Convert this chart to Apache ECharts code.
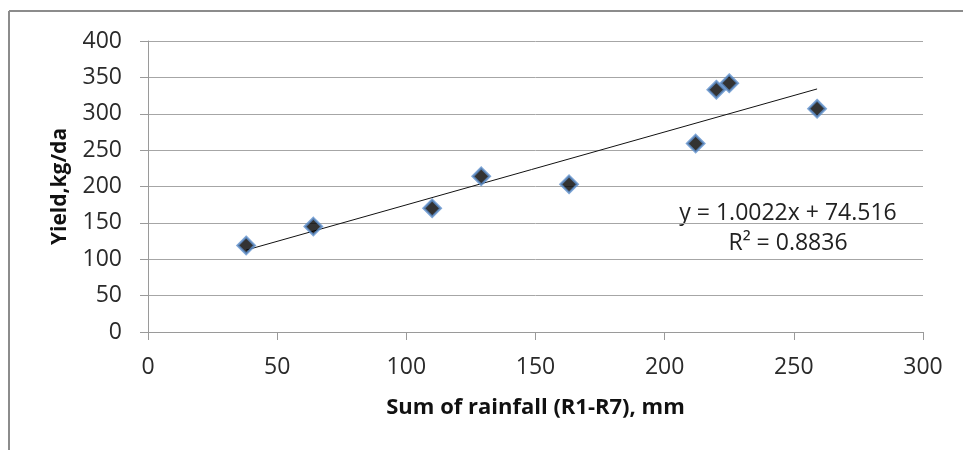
<!DOCTYPE html>
<html>
<head>
<meta charset="utf-8">
<script src="https://cdn.jsdelivr.net/npm/echarts@6/dist/echarts.min.js"></script>
<style>
  html, body { margin: 0; padding: 0; background: #fff; }
  #chart { width: 963px; height: 450px; }
</style>
</head>
<body>
<div id="chart"></div>
<script>
// rainfall sum (mm) and yield (kg/da)
const rainfall = [38, 64, 110, 129, 163, 212, 220, 225, 259];
const yieldKg = [119, 145, 170, 214, 203, 259, 333, 342, 307];
// linear trendline as printed on the chart
const slope = 1.0022;
const intercept = 74.516;
const r2 = 0.8836;

const points = rainfall.map((x, i) => [x, yieldKg[i]]);
const xMin = Math.min(...rainfall);
const xMax = Math.max(...rainfall);
const trend = [xMin, xMax].map(x => [x, slope * x + intercept]);

const chart = echarts.init(document.getElementById("chart"));
const font = "'Open Sans', 'Liberation Sans', sans-serif";

const option = {
  animation: false,
  grid: { left: 148, right: 40, top: 41, bottom: 118 },
  xAxis: {
    type: "value",
    min: 0, max: 300, interval: 50,
    name: "Sum of rainfall (R1-R7), mm",
    nameLocation: "middle",
    nameGap: 65,
    nameTextStyle: { fontFamily: font, fontWeight: "bold", fontSize: 22, color: "#111" },
    axisLine: { show: true, onZero: false, lineStyle: { color: "#9a9a9a", width: 1 } },
    axisTick: { show: true, length: 8, lineStyle: { color: "#9a9a9a" } },
    axisLabel: { fontFamily: font, fontSize: 23, color: "#2a2a2a", margin: 24 },
    splitLine: { show: false }
  },
  yAxis: {
    type: "value",
    min: 0, max: 400, interval: 50,
    name: "Yield,kg/da",
    nameLocation: "middle",
    nameGap: 77,
    nameTextStyle: { fontFamily: font, fontWeight: "bold", fontSize: 21, color: "#111" },
    axisLine: { show: true, lineStyle: { color: "#9a9a9a", width: 1 } },
    axisTick: { show: true, length: 8, lineStyle: { color: "#9a9a9a" } },
    axisLabel: { fontFamily: font, fontSize: 23, color: "#2a2a2a", margin: 26 },
    splitLine: { show: true, lineStyle: { color: "#a6a6a6", width: 1 } }
  },
  series: [
    {
      name: "trend",
      type: "line",
      data: trend,
      symbol: "none",
      lineStyle: { color: "#111", width: 1 },
      z: 2
    },
    {
      name: "yield",
      type: "scatter",
      data: points,
      symbol: "diamond",
      symbolSize: 17,
      itemStyle: { color: "#000", borderColor: "#5d8fcc", borderWidth: 2.5 },
      z: 3
    }
  ],
  graphic: [
    // outer frame (top and left edges visible)
    { type: "line", shape: { x1: 9, y1: 11, x2: 963, y2: 11 }, style: { stroke: "#8c8c8c", lineWidth: 2 } },
    { type: "line", shape: { x1: 9, y1: 11, x2: 9, y2: 450 }, style: { stroke: "#8c8c8c", lineWidth: 2 } },
    {
      type: "text",
      x: 788, y: 202,
      style: {
        text: "y = " + slope + "x + " + intercept,
        fontFamily: font, fontSize: 23, fill: "#222", align: "center"
      }
    },
    {
      type: "text",
      x: 788, y: 232,
      style: {
        text: "R² = " + r2,
        fontFamily: font, fontSize: 23, fill: "#222", align: "center"
      }
    }
  ]
};

chart.setOption(option);
</script>
</body>
</html>
